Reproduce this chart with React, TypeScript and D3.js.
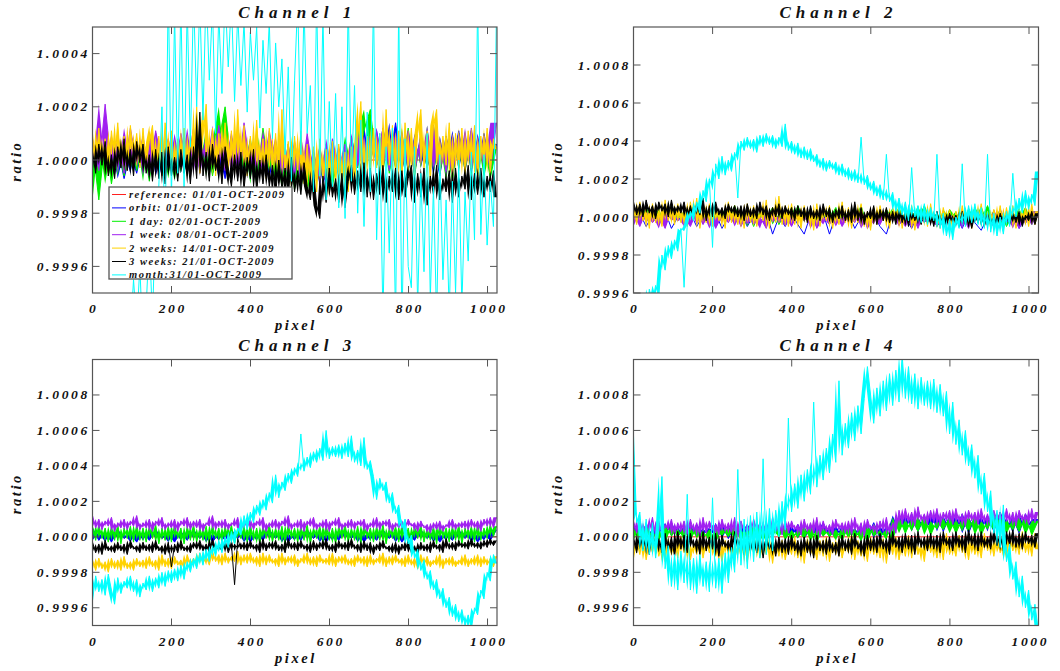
import React from 'react';
import * as d3 from 'd3';

// Values are deviations from 1 in units of 1e-5 (ratio = 1 + v * 1e-5), sampled evenly over pixels 0..1023
const UNIT = 1e-5;

const SERIES_NAMES = [
  'reference: 01/01-OCT-2009',
  'orbit: 01/01-OCT-2009',
  '1 day: 02/01-OCT-2009',
  '1 week: 08/01-OCT-2009',
  '2 weeks: 14/01-OCT-2009',
  '3 weeks: 21/01-OCT-2009',
  'month:31/01-OCT-2009',
];
const SERIES_COLORS = ['#ff2020', '#0000ff', '#00f000', '#a020f0', '#ffd200', '#000000', '#00ffff'];
const CHANNEL_TITLES = ['Channel 1', 'Channel 2', 'Channel 3', 'Channel 4'];
const X_TICKS = [0, 200, 400, 600, 800, 1000];

// ---------- Channel 1 ----------
const CH1_REF = [0, 0];
const CH1_ORBIT = [4,-6,7,-4,5,-7,3,-5,6,-3,8,-6,2,-4,7,-5,
  6,-3,9,-5,4,-7,8,-2,5,-6,7,-4,3,-8,6,-5,
  2,-9,5,-7,3,-10,4,-6,1,-8,6,-3,13,-2,12,-1,
  14,-4,8,-5,10,-3,7,-6,9,-2,11,-4,8,-5,10,-3,6];
const CH1_DAY = [6,-15,8,-9,5,-6,9,-4,7,-8,10,-3,6,-7,8,-5,
  9,-4,11,-6,7,20,-3,10,-5,8,-9,12,-4,7,-10,6,
  -11,5,-12,3,-8,6,-10,4,-6,9,-3,11,19,-2,10,-5,
  8,-4,12,-6,9,-3,13,-5,7,-8,10,-4,11,-6,8,-7,5];
const CH1_WEEK = [8,-4,21,-3,10,-5,12,-2,9,-6,11,-1,8,-4,10,-3,
  12,-5,9,-2,13,-4,10,-6,14,-3,8,-5,11,-2,9,-7,
  7,-8,10,-6,5,-9,8,-4,6,-7,10,-3,9,-2,12,-4,
  10,-3,11,-5,9,-2,13,-4,8,-6,10,-3,12,-5,9,-4,14];
const CH1_2WEEKS = [10,-3,12,-1,8,-5,11,0,14,-2,9,-4,13,1,10,-3,12,-2,7,
  13,-4,9,-6,14,-1,11,-5,8,-3,12,-6,10,
  -2,20,-5,9,21,-3,12,-6,10,-1,14,-4,
  11,-5,19,-2,13,-6,9,-3,15,-4,8,-7,12,
  -5,10,-8,19,-6,7,-10,9,-4,11,-9,6,
  -11,5,-12,8,-8,4,-13,7,-9,6,-10,3,-12,
  5,-9,8,22,-7,9,
  -6,12,-3,10,-8,19,-2,13,-5,11,-7,14,-4,
  12,-6,10,19,-3,11,-8,13,19,-5,9,-2,14,-7,10,-4,12,-6,
  11,-3,13,-7,9,-2,12,-5,8,4];
const CH1_3WEEKS = [3,-5,6,-2,7,-6,2,-7,5,-3,8,-4,4,-6,7,-1,6,-5,2,
  -8,4,-7,3,-9,5,-6,1,-8,4,-5,2,-9,
  5,-7,18,-6,3,-8,6,-4,2,-9,5,-3,
  -10,2,-8,3,-11,1,-7,4,-12,0,-9,2,-10,
  -2,-13,0,-11,-3,-14,1,-12,-4,-13,-1,-10,
  -15,-4,-17,-22,-6,-16,-3,-14,-7,-16,-5,-18,-8,
  -2,-13,-4,-12,-1,-14,
  -3,-15,-5,-13,-2,-16,-6,-12,-3,-15,-4,-14,-7,
  -2,-16,-5,-14,-3,-17,-6,-13,-2,-15,-7,-12,-4,-16,-3,-14,-6,-11,
  -2,-15,-5,-13,-3,-14,-6,-12,-4,-14];
const CH1_MONTH = [-70,-60,-75,-58,-68,-62,-72,-59,-66,-61,-74,-57,-65,
  -45,-62,-40,-70,
  -55,-30,-60,-20,
  -10,20,-30,65,-15,55,-5,60,-12,58,5,62,20,60,15,65,30,58,10,55,25,62,35,
  60,22,55,28,52,18,48,30,50,12,45,25,52,8,44,20,38,2,35,
  -8,30,60,2,58,10,28,-12,60,-6,55,-15,22,-10,25,-18,20,-22,60,-8,28,-20,15,-25,18,-12,
  60,-30,10,-60,5,-35,12,-62,60,-65,8,-40,
  -48,5,-55,-5,-42,10,-52,-10,-60,2,-45,-15,-58,-8,-50,0,-55,-12,
  -38,3,-30,60,-28,2,-32,-8,-25,60];

// ---------- Channel 2 ----------
const CH2_REF = [0, 0];
const CH2_ORBIT = [-2,2,-5,1,-4,3,-6,0,-3,2,-5,1,-4,2,-6,0,
  -3,2,-5,1,-4,3,-9,0,-5,2,-4,-9,1,-5,2,-9,
  1,-4,2,-6,0,-3,1,-5,-9,2,-4,0,-6,1,-3,2,
  -5,0,-4,1,-6,2,-3,-7,0,-5,1,-4,2,-6,0,-3,1];
const CH2_DAY = [3,-4,5,-2,4,-5,6,-1,3,-4,5,-3,2,-5,4,-2,
  6,-3,4,-5,3,-1,5,-4,2,-3,6,-2,4,-5,3,-1,
  5,-4,3,-2,6,-5,2,-3,4,-1,5,-4,3,-2,6,-3,
  2,-5,4,-1,3,-4,5,-2,6,-3,4,-5,2,-1,5,-4,3];
const CH2_WEEK = [2,-5,3,-3,1,-6,4,-2,0,-5,3,-4,2,-6,1,-3,
  3,-5,2,-4,0,-6,4,-3,1,-5,2,-2,3,-6,0,-4,
  2,-5,1,-3,4,-6,0,-4,3,-2,1,-5,2,-6,3,-3,
  0,-5,2,-4,1,-6,3,-2,0,-5,4,-3,1,-6,2,-4,3];
const CH2_2WEEKS = [6,-4,8,-2,5,-6,7,-3,4,-5,9,-2,6,-4,7,-3,5,
  -5,8,-2,10,-6,5,-3,7,-5,6,-2,4,-6,8,-3,6,-4,
  5,-6,7,-3,6,-5,4,-2,9,-6,5,-3,11,-4,6,-5,7,
  -4,5,-6,6,-3,4,-7,7,-5,5,-2,6,-6,4,-4,8,-3,
  5,-6,4,-3,7,-5,3,-7,5,-4,6,-2,4,-6,5,-3,7,
  -6,4,-4,6,-7,3,-3,5,-5,7,-4,2,-6,5,-3,4,-7,
  3,-5,6,-4,4,-6,5,-3,7,-5,3,-6,4,-4,6,-5,5,
  -4,6,-6,4,-3,5,-5,7,-4,3];
const CH2_3WEEKS = [8,1,7,0,9,2,6,-1,8,3,7,0,9,1,6,2,8,
  0,6,-1,7,1,10,-2,6,0,8,1,5,-1,7,2,6,0,
  6,-2,7,0,5,-1,8,1,6,-2,5,0,7,-1,6,1,5,
  -2,6,0,5,-3,6,-1,4,-2,7,0,5,-3,4,-1,6,-2,
  4,-3,8,-2,5,-4,3,-1,6,-4,4,-2,5,-3,3,-4,4,
  -3,3,-5,4,-2,2,-4,5,-3,2,-5,3,-4,1,-5,2,-3,
  1,-5,3,-4,2,-6,1,-3,3,-5,2,-4,0,-5,2,-3,1,
  -4,2,-3,3,-5,1,-2,3,-4,2];
const CH2_MONTH = [-60,-55,-65,-50,-58,
  -38,-45,-36,-42,
  -20,-28,-15,-22,-12,-18,-6,-37,-4,3,-2,8,2,14,8,20,-16,28,20,32,22,30,24,34,10,40,
  35,42,36,41,34,43,37,44,38,43,36,42,37,49,35,40,33,39,31,37,30,36,29,33,26,31,24,30,
  25,29,22,28,21,26,19,25,18,42,17,22,14,19,11,17,9,33,8,13,3,10,1,8,-2,26,0,6,
  -3,7,-4,5,-2,33,-6,2,-10,-1,-12,0,-6,28,-5,6,-3,7,-4,5,-6,33,-8,2,-10,0,-9,3,
  -5,23,0,10,2,14,4,12,6,24];

// ---------- Channel 3 ----------
const CH3_REF = [0, 0];
const CH3_ORBIT = [5,-2,3,-3,4,-1,2,-3,3,-2,4,-1,2,-3,3,-2,
  4,-1,3,-3,2,-2,4,-1,3,-3,2,-2,4,-1,3,-3,
  2,-2,4,-1,3,-3,2,-2,4,-1,3,-3,2,-2,4,-1,
  3,-3,2,-2,4,-1,3,-3,2,-2,4,-1,3,-3,2,-2,4];
const CH3_DAY = [6,-2,7,-1,5,-3,6,-2,7,-4,5,-1,6,-3,7,-2,5,
  -3,6,-1,7,-4,5,-2,6,-3,7,-1,5,-4,6,-2,7,-3,
  5,-2,6,-4,7,-1,5,-3,6,-2,7,-4,5,-1,6,-3,7,
  -2,5,-4,6,-1,7,-3,5,-2,6,-4,7,-1,5,-3,6,-2,
  7,-4,5,-1,6,-3,7,-2,5,-4,6,-1,7,-3,5,-2,6,
  -4,7,-1,5,-3,6,-2,7,-4,5,-1,6,-3,7,-2,5,-4,
  6,-1,7,-3,5,-2,6,-4,7,-1,5,-3,6,-2,7,-4,5,
  -1,6,-3,7,-2,5,-1,7,0,6];
const CH3_WEEK = [12,5,10,4,9,6,11,3,8,5,10,4,9,6,12,4,8,
  5,10,3,9,6,11,4,8,5,10,3,9,6,11,4,9,5,
  10,3,8,6,12,4,9,5,10,4,8,6,11,3,9,5,10,
  4,9,6,11,3,8,5,10,4,9,6,12,4,8,5,10,3,
  9,6,11,4,8,5,10,3,9,6,11,4,8,5,10,4,9,
  6,10,3,8,5,11,4,9,6,10,3,8,5,9,4,10,6,
  8,3,9,5,7,2,8,4,9,3,7,5,10,4,8,5,9,
  4,10,5,9,3,10,6,11,5,11];
const CH3_2WEEKS = [-13,-19,-12,-18,-14,-20,-12,-18,-13,-19,-11,-18,-14,-19,-12,-17,-13,
  -18,-11,-17,-13,-19,-10,-17,-12,-18,-11,-16,-13,-18,-10,-16,-12,-17,
  -9,-15,-11,-16,-8,-14,-10,-16,-9,-15,-11,-14,-8,-16,-10,-15,-9,
  -15,-11,-17,-9,-16,-10,-15,-12,-17,-9,-16,-11,-15,-10,-17,-12,-15,
  -9,-16,-11,-17,-10,-15,-12,-16,-9,-17,-11,-15,-10,-16,-12,-17,-10,
  -15,-11,-17,-10,-16,-12,-15,-9,-17,-11,-16,-10,-15,-12,-17,-10,-16,
  -12,-18,-10,-16,-11,-17,-13,-16,-10,-18,-12,-16,-11,-17,-13,-16,-10,
  -17,-12,-16,-10,-17,-11,-16,-12,-17,-11];
const CH3_3WEEKS = [-3,-9,-4,-10,-2,-8,-5,-9,-3,-8,-4,-10,-2,-7,-5,-9,-3,
  -8,-4,-9,-2,-8,-5,-10,-3,-17,-4,-9,-2,-8,-5,-9,-3,-7,
  -2,-8,-4,-9,-1,-7,-5,-8,-2,-9,-4,-27,-1,-7,-3,-8,-2,
  -7,-4,-9,-1,-8,-3,-7,-2,-8,-4,-9,-1,-7,-3,-8,-2,-7,
  -4,-9,-2,-8,-3,-7,-1,-8,-4,-9,-2,-7,-3,-8,-1,-7,-4,
  -9,-2,-8,-3,-10,-4,-8,-2,-7,-5,-9,-3,-10,-4,-8,-2,-9,
  -5,-10,-3,-8,-4,-9,-2,-7,-4,-9,-1,-7,-3,-8,-2,-6,-3,
  -7,-1,-6,-3,-7,-2,-6,-1,-5,-2];
const CH3_MONTH = [-36,-22,-31,-24,-33,-21,-30,-38,-23,-32,-25,-29,-22,-31,-24,-34,-26,
  -30,-22,-31,-23,-29,-20,-28,-19,-26,-18,-25,-16,-24,-14,-20,-12,-18,
  -9,-16,-7,-14,-5,-11,-2,-9,0,-6,3,-4,5,1,12,4,14,
  8,18,12,21,15,25,19,35,22,31,26,36,30,39,34,58,37,
  45,39,48,42,50,43,60,44,51,45,52,44,53,45,57,42,49,
  40,56,38,43,34,21,33,26,31,19,25,13,18,5,10,-4,1,
  -12,-7,-19,-13,-24,-19,-30,-24,-35,-29,-40,-34,-45,-38,-48,-41,-50,
  -44,-52,-40,-44,-30,-35,-20,-25,-10,-15];

// ---------- Channel 4 ----------
const CH4_REF = [0, 0];
const CH4_ORBIT = [6,0,7,-1,5,1,8,0,6,-1,7,1,5,0,8,-1,
  6,1,7,0,5,-1,8,1,6,0,7,-1,5,1,8,0,
  6,-1,7,1,5,0,8,-1,6,1,12,4,13,3,11,5,
  14,3,12,4,13,2,11,5,12,3,14,4,11,2,13,4,10];
const CH4_DAY = [5,-2,6,-1,4,-3,7,0,5,-2,6,-1,4,-3,5,0,
  6,-2,4,-1,7,-3,5,0,6,-2,4,-1,7,-3,5,0,
  4,-2,6,-1,5,-3,7,0,4,-2,11,2,10,3,12,1,
  9,4,11,2,10,3,12,1,9,4,11,2,10,3,12,1,9];
const CH4_WEEK = [9,2,10,1,8,3,11,0,9,2,7,4,10,1,8,3,9,
  1,10,3,8,0,11,2,9,4,7,1,10,3,8,2,11,0,
  9,3,7,1,10,4,8,2,9,0,11,3,8,1,10,2,9,
  4,7,1,10,3,8,2,11,0,9,3,7,1,10,4,8,2,
  9,1,11,3,8,0,10,4,7,2,9,3,11,1,8,2,15,
  7,16,8,14,6,17,9,13,7,15,8,16,6,14,9,15,7,
  16,8,13,6,15,9,14,7,16,8,13,6,15,9,14,7,16,
  8,14,6,15,9,13,7,16,8,14];
const CH4_2WEEKS = [-12,-2,-10,0,-13,-3,-9,1,-11,-4,-14,-1,-10,-3,-12,0,-9,
  -2,-13,-4,-10,0,-12,-3,-9,1,-11,-5,-14,-2,-10,-1,-13,-4,
  -11,-2,-14,-3,-9,0,-12,-4,-10,-1,-15,-3,-11,-2,-13,-4,-10,
  0,-12,-3,-15,-1,-10,-4,-13,-2,-11,0,-14,-3,-10,-1,-12,-4,
  -9,1,-13,-2,-11,-4,-14,0,-10,-3,-12,-1,-15,-2,-10,0,-13,
  -3,-11,1,-12,-2,-10,-4,-14,0,-9,-3,-12,-1,-13,2,-10,-4,
  -11,1,-9,-2,-13,0,-10,-3,-12,2,-8,-1,-11,0,-9,-4,-12,
  1,-8,-2,-10,3,-9,-1,-11,2,-7];
const CH4_3WEEKS = [0,-9,2,-7,1,-10,3,-6,-1,-9,2,-8,0,-11,3,-7,1,
  -9,2,-6,-1,-10,3,-8,0,-7,2,-11,1,-6,-2,-9,3,-7,
  0,-10,2,-8,-1,-9,1,-12,0,-7,-2,-11,0,-9,-1,-10,1,
  -8,-2,-11,0,-9,-1,-12,1,-8,-2,-10,0,-9,-3,-11,1,-8,
  -1,-10,2,-7,-2,-11,1,-8,0,-9,2,-7,-1,-10,3,-6,0,
  -9,2,-7,1,-10,3,-6,0,-8,2,-7,1,-9,3,-5,0,-8,
  3,-6,1,-9,4,-5,2,-8,3,-6,0,-7,4,-5,2,-8,3,
  -5,4,-6,2,-7,3,-4,1,-6,2];
const CH4_MONTH = [57,8,14,-8,10,-10,8,-12,4,34,-18,-5,-28,-10,-30,-8,-26,
  24,-30,-12,-32,-10,-28,-14,-31,22,-29,-12,-32,-9,-26,-6,-20,
  38,-16,10,-18,12,-14,14,-12,44,-10,16,-8,15,0,20,4,67,14,
  30,16,35,20,38,24,76,28,46,32,50,36,58,42,88,46,
  64,50,70,54,74,58,78,96,80,64,84,68,88,71,92,74,94,76,
  102,78,96,75,92,72,90,74,88,72,89,70,86,68,82,58,76,
  52,66,46,60,40,52,33,46,24,36,14,26,2,15,-6,18,-14,
  -4,-24,-14,-34,-22,-40,-30,-47,-38,-52];

const PANEL_SERIES = [
  [CH1_REF, CH1_ORBIT, CH1_DAY, CH1_WEEK, CH1_2WEEKS, CH1_3WEEKS, CH1_MONTH],
  [CH2_REF, CH2_ORBIT, CH2_DAY, CH2_WEEK, CH2_2WEEKS, CH2_3WEEKS, CH2_MONTH],
  [CH3_REF, CH3_ORBIT, CH3_DAY, CH3_WEEK, CH3_2WEEKS, CH3_3WEEKS, CH3_MONTH],
  [CH4_REF, CH4_ORBIT, CH4_DAY, CH4_WEEK, CH4_2WEEKS, CH4_3WEEKS, CH4_MONTH],
];
// dense noise renders as a solid band: fill between consecutive samples
const DENSE_BAND = [
  [false, true, true, true, true, true, false],
  [false, false, true, true, true, true, true],
  [false, true, true, true, true, true, true],
  [false, true, true, true, true, true, true],
];
const Y_DOMAINS = [[0.9995, 1.0005], [0.9996, 1.0010], [0.9995, 1.0010], [0.9995, 1.0010]];
const Y_TICKS = [
  [0.9996, 0.9998, 1.0, 1.0002, 1.0004],
  [0.9996, 0.9998, 1.0, 1.0002, 1.0004, 1.0006, 1.0008],
  [0.9996, 0.9998, 1.0, 1.0002, 1.0004, 1.0006, 1.0008],
  [0.9996, 0.9998, 1.0, 1.0002, 1.0004, 1.0006, 1.0008],
];

const FONT = "'Liberation Serif', 'DejaVu Serif', serif";
const BOXES = [
  { left: 92.5, right: 497, top: 27, bottom: 293 },
  { left: 633.5, right: 1038.5, top: 27, bottom: 293 },
  { left: 92.5, right: 497, top: 359.5, bottom: 625.5 },
  { left: 633.5, right: 1038.5, top: 359.5, bottom: 625.5 },
];
const AXIS_COLOR = '#555';
const TICK_LEN = 7;

// isolated spikes are drawn by the line only, not widened by the band fill
function bandValues(vals: number[]): number[] {
  const n = vals.length;
  if (n < 5) return vals;
  const d = vals.map((v, i) => (i === 0 || i === n - 1 ? 0 : Math.abs(v - (vals[i - 1] + vals[i + 1]) / 2)));
  const inner = d.slice(1, n - 1).sort((a, b) => a - b);
  const med = inner[Math.floor(inner.length / 2)];
  return vals.map((v, i) => {
    if (i === 0 || i === n - 1 || d[i] <= 2.5 * med) return v;
    const a = i >= 2 ? vals[i - 2] : vals[i + 2];
    const c = i + 2 < n ? vals[i + 2] : vals[i - 2];
    return (a + c) / 2;
  });
}

function Panel({ idx }: { idx: number }) {
  const b = BOXES[idx];
  const x = d3.scaleLinear().domain([0, 1024]).range([b.left, b.right]);
  const y = d3.scaleLinear().domain(Y_DOMAINS[idx]).range([b.bottom, b.top]);
  const fmt = d3.format('.4f');
  const clipId = `clip-${idx}`;
  const series = PANEL_SERIES[idx];
  const cx = (b.left + b.right) / 2;
  const cy = (b.top + b.bottom) / 2;
  const textStyle = { fontFamily: FONT, fontStyle: 'italic', fontWeight: 'bold' } as const;
  return (
    <g>
      <defs>
        <clipPath id={clipId}>
          <rect x={b.left} y={b.top} width={b.right - b.left} height={b.bottom - b.top} />
        </clipPath>
      </defs>
      <g clipPath={`url(#${clipId})`}>
        {series.map((vals, si) => {
          const n = vals.length;
          const px = (i: number) => x((i * 1023) / (n - 1));
          const line = d3
            .line<number>()
            .x((_, i) => px(i))
            .y((v) => y(1 + v * UNIT));
          const bv = bandValues(vals);
          const band = d3
            .area<number>()
            .x((_, i) => px(i))
            .y0((v) => y(1 + v * UNIT))
            .y1((_, i) => y(1 + bv[Math.min(i + 1, n - 1)] * UNIT));
          return (
            <g key={si}>
              {DENSE_BAND[idx][si] && <path d={band(bv) || ''} fill={SERIES_COLORS[si]} stroke="none" />}
              <path d={line(vals) || ''} fill="none" stroke={SERIES_COLORS[si]} strokeWidth={1} />
            </g>
          );
        })}
      </g>
      <rect x={b.left} y={b.top} width={b.right - b.left} height={b.bottom - b.top} fill="none" stroke={AXIS_COLOR} strokeWidth={1.2} />
      {X_TICKS.map((t) => (
        <g key={`x${t}`}>
          <line x1={x(t)} x2={x(t)} y1={b.bottom} y2={b.bottom - TICK_LEN} stroke={AXIS_COLOR} />
          <line x1={x(t)} x2={x(t)} y1={b.top} y2={b.top + TICK_LEN} stroke={AXIS_COLOR} />
          <text x={x(t) + 1.3} y={b.bottom + 20} textAnchor="middle" fontSize={13.5} letterSpacing={2.6} fill="#111" {...textStyle}>
            {String(t)}
          </text>
        </g>
      ))}
      {Y_TICKS[idx].map((t) => (
        <g key={`y${t}`}>
          <line x1={b.left} x2={b.left + TICK_LEN} y1={y(t)} y2={y(t)} stroke={AXIS_COLOR} />
          <line x1={b.right} x2={b.right - TICK_LEN} y1={y(t)} y2={y(t)} stroke={AXIS_COLOR} />
          <text x={b.left - 2.5} y={y(t) + 4.5} textAnchor="end" fontSize={13.5} letterSpacing={2.7} fill="#111" {...textStyle}>
            {fmt(t)}
          </text>
        </g>
      ))}
      <text x={cx + 2.5} y={b.top - 9} textAnchor="middle" fontSize={17} letterSpacing={5} fill="#111" {...textStyle}>
        {CHANNEL_TITLES[idx]}
      </text>
      <text x={cx + 1.2} y={b.bottom + 37} textAnchor="middle" fontSize={14.5} letterSpacing={2.6} fill="#111" {...textStyle}>
        pixel
      </text>
      <text
        transform={`translate(${b.left - 72},${cy + 1.2}) rotate(-90)`}
        textAnchor="middle"
        fontSize={14.5}
        letterSpacing={2.6}
        fill="#111"
        {...textStyle}
      >
        ratio
      </text>
    </g>
  );
}

function Legend() {
  const x0 = 109;
  const y0 = 187;
  const w = 183;
  const h = 92;
  const rowH = 13.4;
  return (
    <g>
      <rect x={x0} y={y0} width={w} height={h} fill="#fff" stroke="#555" strokeWidth={1.3} />
      {SERIES_NAMES.map((name, i) => {
        const yy = y0 + 7.5 + i * rowH;
        return (
          <g key={name}>
            <line x1={x0 + 3} x2={x0 + 17} y1={yy} y2={yy} stroke={SERIES_COLORS[i]} strokeWidth={1} />
            <text
              x={x0 + 20}
              y={yy + 3.5}
              fontSize={10.5}
              letterSpacing={1.5}
              fill="#111"
              fontFamily={FONT}
              fontStyle="italic"
              fontWeight="bold"
            >
              {name}
            </text>
          </g>
        );
      })}
    </g>
  );
}

export default function App() {
  return (
    <div style={{ position: 'absolute', left: 0, top: 0, width: 1060, height: 671, background: '#fff' }}>
      <svg width={1060} height={671} style={{ display: 'block' }}>
        <rect width={1060} height={671} fill="#fff" />
        {[0, 1, 2, 3].map((i) => (
          <Panel key={i} idx={i} />
        ))}
        <Legend />
      </svg>
    </div>
  );
}
